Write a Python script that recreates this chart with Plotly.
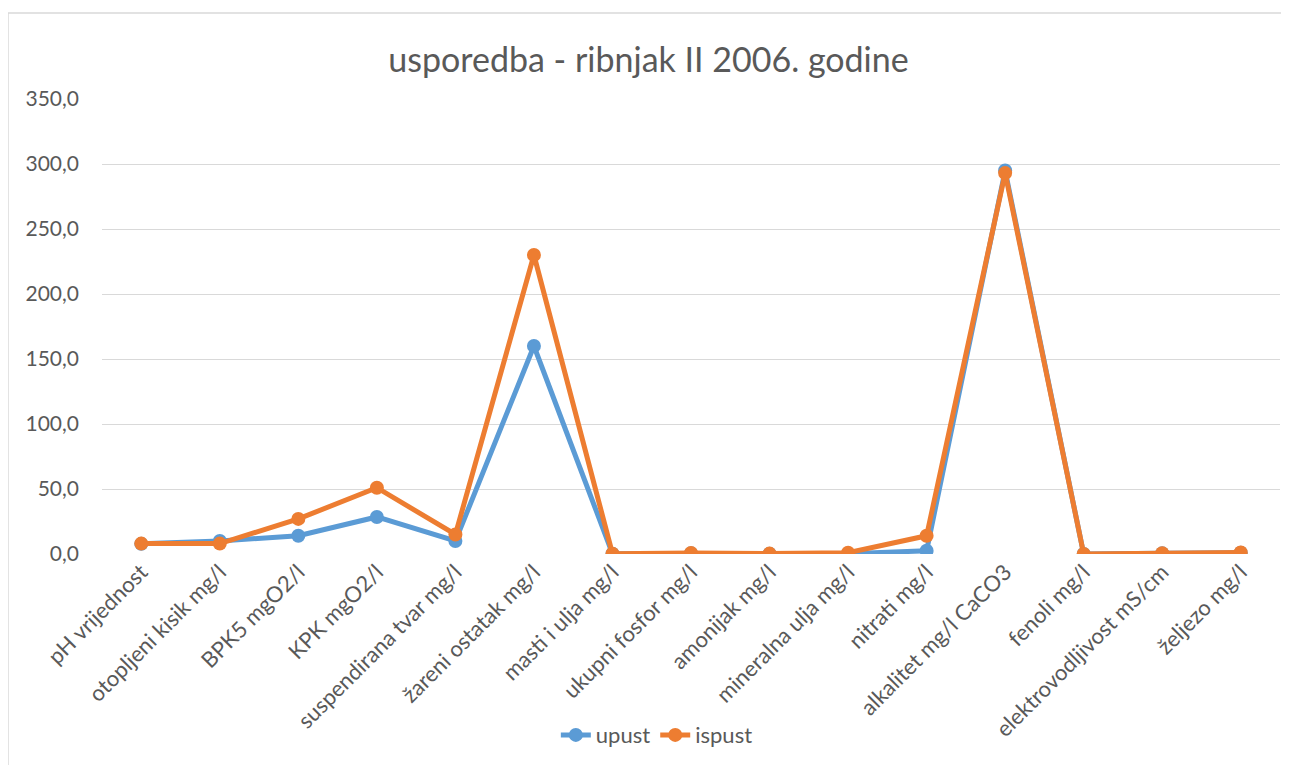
import plotly.graph_objects as go

categories = ["pH vrijednost", "otopljeni kisik mg/l", "BPK5 mgO2/l", "KPK mgO2/l",
              "suspendirana tvar mg/l", "žareni ostatak mg/l", "masti i ulja mg/l",
              "ukupni fosfor mg/l", "amonijak mg/l", "mineralna ulja mg/l", "nitrati mg/l",
              "alkalitet mg/l CaCO3", "fenoli mg/l", "elektrovodljivost mS/cm", "željezo mg/l"]
upust = [7.8, 10.0, 14.0, 28.5, 10.0, 160.0, 0.2, 0.5, 0.2, 0.1, 2.5, 295.0, 0.01, 0.5, 1.0]
ispust = [8.0, 8.0, 27.0, 51.0, 15.0, 230.0, 0.2, 0.8, 0.3, 1.0, 14.0, 293.0, 0.01, 0.6, 1.2]
y_ticks = [0, 50, 100, 150, 200, 250, 300, 350]

FONT = "Lato, 'Open Sans', sans-serif"
GRAY = "#595959"

fig = go.Figure()
fig.add_trace(go.Scatter(x=categories, y=upust, name="upust", mode="lines+markers",
                         line=dict(color="#5B9BD5", width=5),
                         marker=dict(color="#5B9BD5", size=14)))
fig.add_trace(go.Scatter(x=categories, y=ispust, name="ispust", mode="lines+markers",
                         line=dict(color="#ED7D31", width=5),
                         marker=dict(color="#ED7D31", size=14)))

# page body has an 8px offset; plot area spans x 102..1280, y 99..554 on screen
fig.update_layout(
    width=1281, height=757,
    margin=dict(l=94, r=9, t=91, b=211),
    paper_bgcolor="white", plot_bgcolor="white",
    separators=",.",
    font=dict(family=FONT, color=GRAY, size=20),
    title=dict(text="usporedba - ribnjak II 2006. godine", x=0.5, xanchor="center",
               y=1 - 52 / 757, yanchor="middle",
               font=dict(family=FONT, size=34, color=GRAY)),
    showlegend=True,
    legend=dict(orientation="h", x=0.471, xanchor="center", y=-0.398, yanchor="middle",
                font=dict(size=22, color=GRAY)),
    xaxis=dict(type="category", tickangle=-45, showgrid=False, showline=False,
               ticks="", tickfont=dict(size=22, color=GRAY), range=[-0.5, 14.5],
               automargin=False),
    yaxis=dict(range=[0, 350], tickvals=y_ticks, tickformat=".1f", showgrid=True,
               gridcolor="#D9D9D9", gridwidth=1.3, zeroline=False, showline=False,
               ticks="", tickfont=dict(size=21, color=GRAY), ticklabelstandoff=22,
               automargin=False),
)

# chart frame lines (Excel-style chart border)
fig.add_shape(type="line", xref="paper", yref="paper", x0=-0.0798, x1=-0.0798,
              y0=1.189, y1=-0.5, line=dict(color="#D9D9D9", width=1.5))
fig.add_shape(type="line", xref="paper", yref="paper", x0=-0.0798, x1=1.1,
              y0=1.189, y1=1.189, line=dict(color="#D9D9D9", width=1.5))

fig.write_html("out.html")
